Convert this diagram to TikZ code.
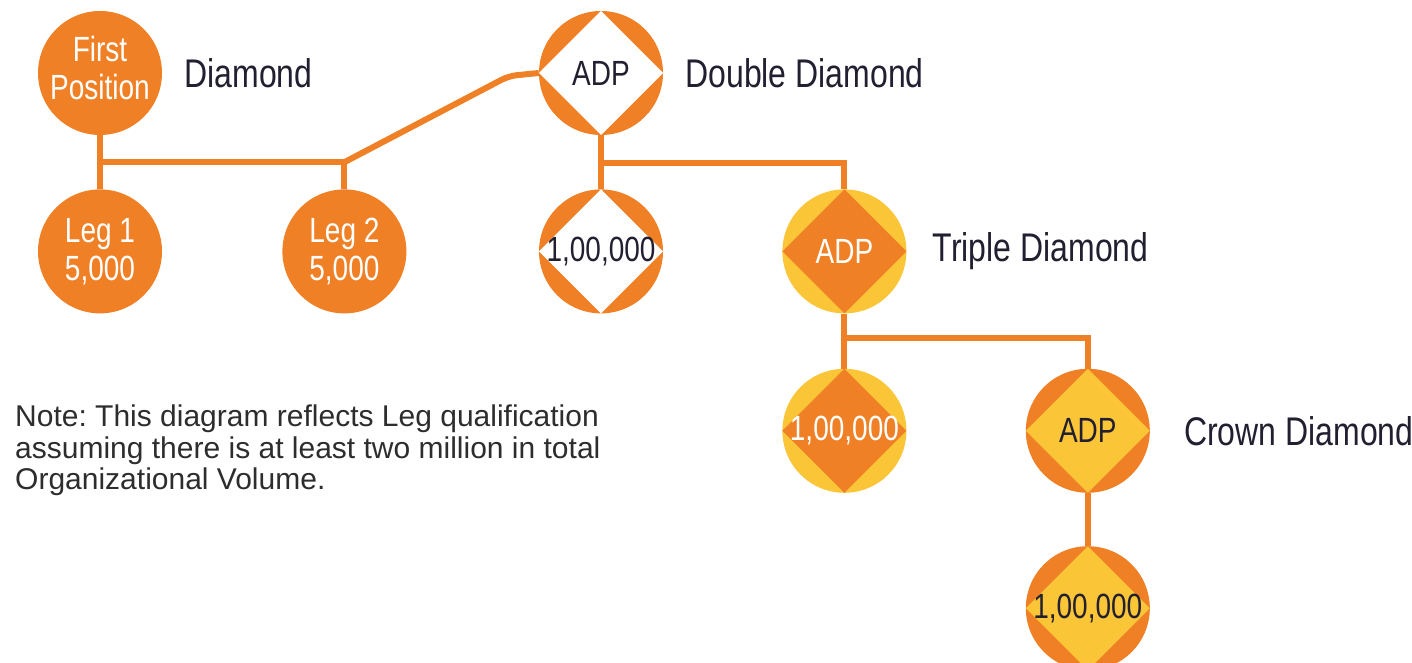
\documentclass[tikz,border=0pt]{standalone}
\usepackage{fontspec}
\usepackage{tikz}
\usetikzlibrary{positioning}
\newfontfamily\condfont[FakeStretch=0.8]{Liberation Sans}
\newfontfamily\notefont{Liberation Sans}
\definecolor{gemorange}{RGB}{240,128,38}
\definecolor{gemyellow}{RGB}{251,197,56}
\definecolor{gemink}{RGB}{33,31,48}
\definecolor{notegray}{RGB}{45,45,45}
\frenchspacing
\tikzset{
    disc/.style={
           circle,
           fill=gemorange,
           minimum size=124pt,
           inner sep=0pt,
           text=white,
           align=center,
           font=\condfont\fontsize{35}{38}\selectfont,
           },
}
\tikzset{
    gem/.style 2 args={
           disc,
           fill=#1,
           path picture={\fill[#2] (path picture bounding box.north) -- (path picture bounding box.east) -- (path picture bounding box.south) -- (path picture bounding box.west) -- cycle;},
           },
}
\tikzset{
    rank/.style={
           inner sep=0pt,
           text=gemink,
           font=\condfont\fontsize{40}{44}\selectfont,
           },
    link/.style={
           draw=gemorange,
           line width=6pt,
           },
}

\begin{document}
\begin{tikzpicture}[x=1pt,y=1pt]
\useasboundingbox (0,0) rectangle (1412,663);
\clip (0,0) rectangle (1412,663);
\node[disc,text depth=10pt](first) at (100,590){First\\Position};
\node[disc,below=54pt of first](leg1){Leg 1\\5,000};
\node[disc,right=120pt of leg1](leg2){Leg 2\\5,000};
\node[gem={gemorange}{white},text=gemink](adp1) at (601,590){ADP};
\node[gem={gemorange}{white},text=gemink,below=54pt of adp1](lakh1){1,00,000};
\node[gem={gemyellow}{gemorange},right=119pt of lakh1](adp2){ADP};
\node[gem={gemyellow}{gemorange},below=55pt of adp2](lakh2){1,00,000};
\node[gem={gemorange}{gemyellow},text=gemink,right=119pt of lakh2](adp3){ADP};
\node[gem={gemorange}{gemyellow},text=gemink,below=53pt of adp3](lakh3){1,00,000};
\node[rank,right=22pt of first](diamond){Diamond};
\node[rank,right=22pt of adp1](double){Double Diamond};
\node[rank,right=26pt of adp2](triple){Triple Diamond};
\node[rank,right=34pt of adp3](crown){Crown Diamond};
\node[anchor=north west,inner sep=0pt,align=left,text=notegray,font=\notefont\fontsize{30}{31.5}\selectfont](note) at (15,258){Note: This diagram reflects Leg qualification\\assuming there is at least two million in total\\Organizational Volume.};
\coordinate (fork1) at ([yshift=-27pt]first.south);
\coordinate (bend) at ([xshift=-30pt,yshift=-3pt]adp1.west);
\coordinate (fork2) at ([yshift=-28pt]adp1.south);
\coordinate (fork3) at ([yshift=-24pt]adp2.south);
\draw[link](first.south)--(leg1.north);
\draw[link](fork1)-|(leg2.north);
\draw[link,rounded corners=8pt](leg2.north|-fork1)--(bend)--(adp1.west);
\draw[link](adp1.south)--(lakh1.north);
\draw[link](fork2)-|(adp2.north);
\draw[link](adp2.south)--(lakh2.north);
\draw[link](fork3)-|(adp3.north);
\draw[link](adp3.south)--(lakh3.north);
\end{tikzpicture}
\end{document}
